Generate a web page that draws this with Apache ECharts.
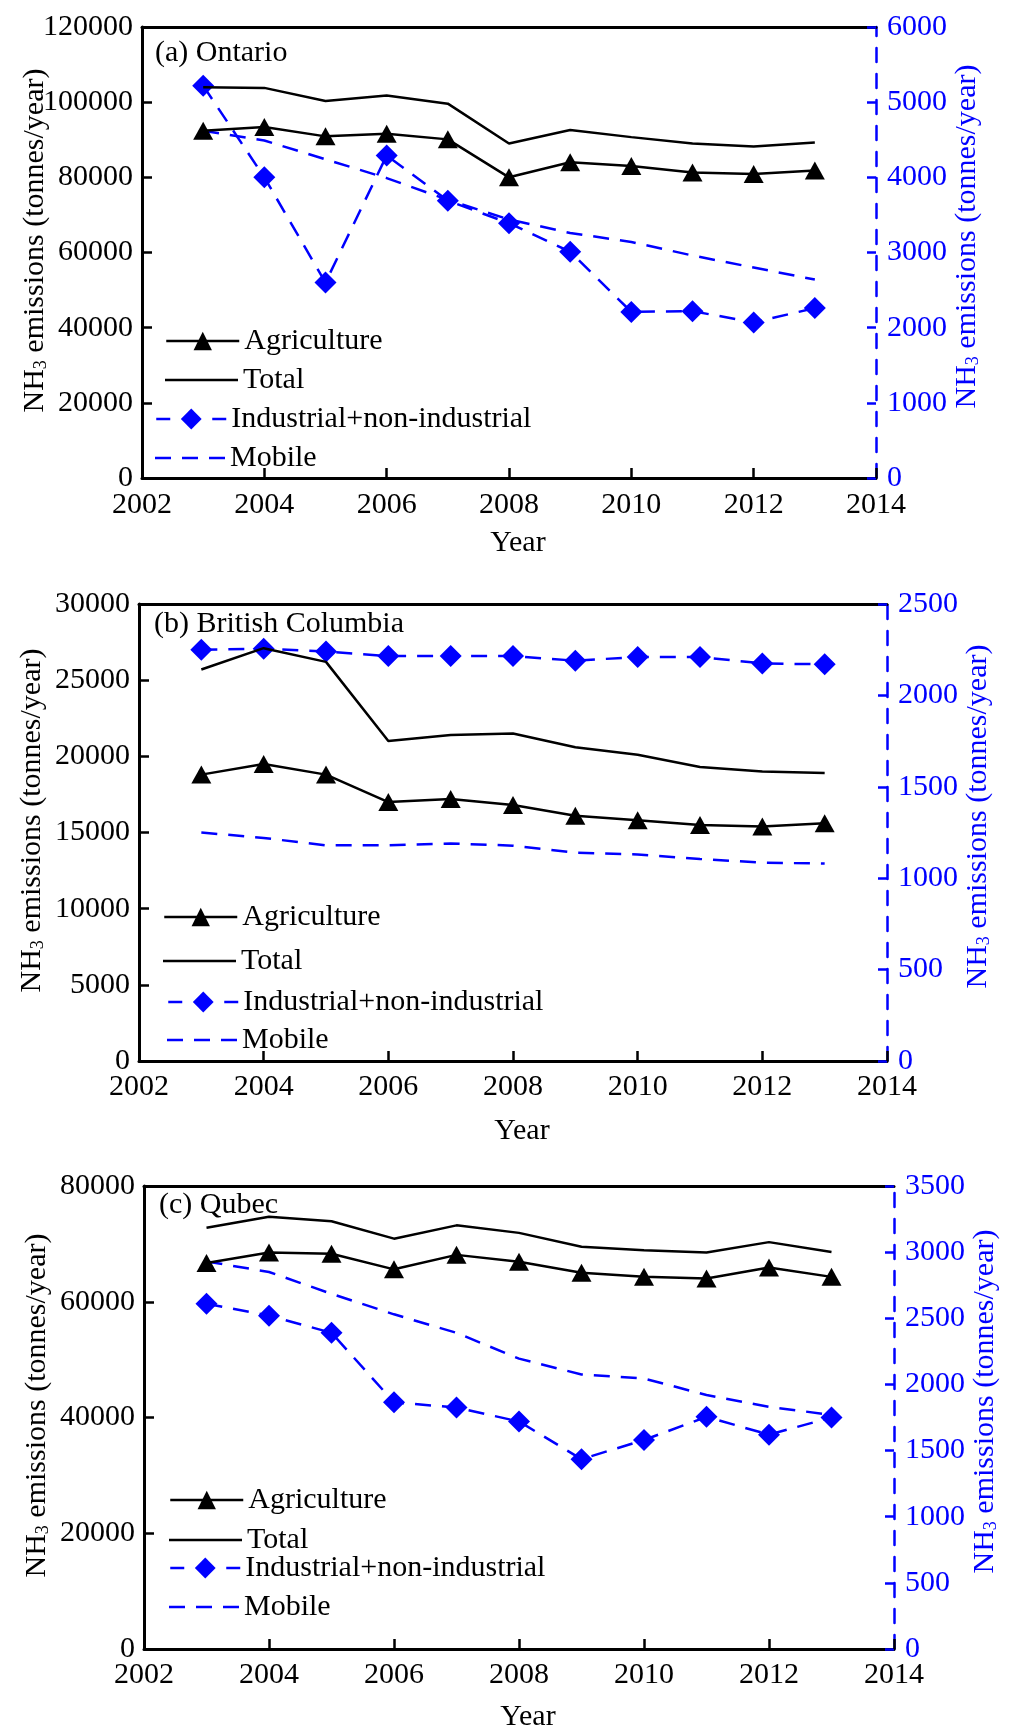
<!DOCTYPE html>
<html>
<head>
<meta charset="utf-8">
<script src="https://cdn.jsdelivr.net/npm/echarts@6/dist/echarts.min.js"></script>
<style>
  html, body { margin: 0; padding: 0; background: #ffffff; }
  #chart { width: 1016px; height: 1726px; }
</style>
</head>
<body>
<div id="chart"></div>
<script>
// Years of the emission inventory
const years = [2003, 2004, 2005, 2006, 2007, 2008, 2009, 2010, 2011, 2012, 2013];

// Year axis: [min, max, interval]
const yearAxis = [2002, 2014, 2];

// (a) Ontario, tonnes/year
const onTotal       = [104000, 103800, 100300, 101800, 99600, 89000, 92600, 90700, 89000, 88200, 89300];
const onAgriculture = [92400, 93400, 90900, 91600, 90100, 80000, 84000, 83000, 81300, 80900, 81800];
const onIndustrial  = [5220, 4000, 2600, 4290, 3690, 3390, 3010, 2210, 2220, 2070, 2260];
const onMobile      = [4620, 4490, 4240, 3990, 3700, 3440, 3260, 3140, 2960, 2800, 2640];
const onLeftAxis    = [0, 120000, 20000];
const onRightAxis   = [0, 6000, 1000];

// (b) British Columbia, tonnes/year
const bcTotal       = [25700, 27100, 26200, 21000, 21400, 21500, 20600, 20100, 19300, 19000, 18900];
const bcAgriculture = [18800, 19500, 18800, 17000, 17200, 16800, 16100, 15800, 15500, 15400, 15600];
const bcIndustrial  = [2250, 2255, 2240, 2215, 2215, 2215, 2190, 2210, 2210, 2175, 2170];
const bcMobile      = [1250, 1220, 1180, 1180, 1190, 1178, 1140, 1130, 1105, 1085, 1080];
const bcLeftAxis    = [0, 30000, 5000];
const bcRightAxis   = [0, 2500, 500];

// (c) Quebec, tonnes/year
const qcTotal       = [72800, 74700, 73900, 70900, 73200, 71900, 69500, 68900, 68500, 70300, 68600];
const qcAgriculture = [66700, 68500, 68300, 65600, 68100, 66900, 65000, 64300, 64000, 65900, 64300];
const qcIndustrial  = [2610, 2520, 2390, 1865, 1825, 1720, 1435, 1580, 1755, 1620, 1750];
const qcMobile      = [2930, 2850, 2685, 2530, 2390, 2195, 2075, 2045, 1920, 1830, 1770];
const qcLeftAxis    = [0, 80000, 20000];
const qcRightAxis   = [0, 3500, 500];

const FONT = 'Liberation Serif';
const BLUE = '#0000ff';
const BLACK = '#000000';
const FS = 30;
const BLUE_DASH = [16, 11];

const pairs = (vals) => years.map((y, i) => [y, vals[i]]);
const plain = (v) => String(v);

const panels = [
  {
    title: '(a) Ontario', titlePos: { left: 155, top: 38 },
    total: onTotal, agri: onAgriculture, ind: onIndustrial, mob: onMobile,
    leftAxis: onLeftAxis, rightAxis: onRightAxis,
    grid: { left: 142, top: 27, width: 734, height: 451 },
    labelMargin: 12, yearGap: 50,
    legendPos: [[165, 326], [165, 365], [155, 404], [155, 443]]
  },
  {
    title: '(b) British Columbia', titlePos: { left: 154, top: 609 },
    total: bcTotal, agri: bcAgriculture, ind: bcIndustrial, mob: bcMobile,
    leftAxis: bcLeftAxis, rightAxis: bcRightAxis,
    grid: { left: 139, top: 604, width: 748, height: 457 },
    labelMargin: 11, yearGap: 55,
    legendPos: [[163, 902], [163, 946], [167, 987], [167, 1025]]
  },
  {
    title: '(c) Qubec', titlePos: { left: 159, top: 1190 },
    total: qcTotal, agri: qcAgriculture, ind: qcIndustrial, mob: qcMobile,
    leftAxis: qcLeftAxis, rightAxis: qcRightAxis,
    grid: { left: 144, top: 1186, width: 750, height: 463 },
    labelMargin: 11, yearGap: 53,
    legendPos: [[169, 1485], [169, 1525], [169, 1553], [169, 1592]]
  }
];

const nameRich = (color) => ({
  a: { fontFamily: FONT, fontSize: FS, color: color },
  s: { fontFamily: FONT, fontSize: 18, color: color, verticalAlign: 'bottom' }
});
const axisName = '{a|NH}{s|3}{a| emissions (tonnes/year)}';

// Legend glyphs for the plain line series (no marker)
const solidIcon = 'path://M0,0H73V2.5H0Z';
const dashedIcon = 'path://M0,0H16V2.5H0Z M27,0H43V2.5H27Z M54,0H70V2.5H54Z';

const grids = [], xAxes = [], yAxes = [], series = [], titles = [], legends = [];

panels.forEach((p, i) => {
  grids.push(Object.assign({ containLabel: false, outerBoundsMode: 'none' }, p.grid));

  titles.push({
    text: p.title, left: p.titlePos.left, top: p.titlePos.top, padding: 0,
    textStyle: { fontFamily: FONT, fontSize: FS, fontWeight: 'normal', color: BLACK, lineHeight: 30 }
  });

  // bottom year axis
  xAxes.push({
    type: 'value', gridIndex: i, position: 'bottom',
    min: yearAxis[0], max: yearAxis[1], interval: yearAxis[2],
    name: 'Year', nameLocation: 'middle', nameGap: p.yearGap, nameMoveOverlap: false,
    nameTextStyle: { fontFamily: FONT, fontSize: FS, color: BLACK, padding: [0, 0, 0, 18] },
    axisLine: { show: true, onZero: false, lineStyle: { color: BLACK, width: 3 } },
    axisTick: { show: true, inside: true, length: 10, lineStyle: { color: BLACK, width: 2.5 } },
    axisLabel: { fontFamily: FONT, fontSize: FS, color: BLACK, margin: p.labelMargin, formatter: plain },
    splitLine: { show: false }
  });
  // top frame line
  xAxes.push({
    type: 'value', gridIndex: i, position: 'top',
    min: yearAxis[0], max: yearAxis[1], interval: yearAxis[2],
    axisLine: { show: true, onZero: false, lineStyle: { color: BLACK, width: 3 } },
    axisTick: { show: false }, axisLabel: { show: false }, splitLine: { show: false }
  });

  // left axis: agriculture and total
  yAxes.push({
    type: 'value', gridIndex: i, position: 'left',
    min: p.leftAxis[0], max: p.leftAxis[1], interval: p.leftAxis[2],
    name: axisName, nameLocation: 'middle', nameRotate: 90, nameGap: 92, nameMoveOverlap: false,
    nameTextStyle: { rich: nameRich(BLACK), padding: [0, 0, 0, 24] },
    axisLine: { show: true, onZero: false, lineStyle: { color: BLACK, width: 3 } },
    axisTick: { show: true, inside: true, length: 10, lineStyle: { color: BLACK, width: 2.5 } },
    axisLabel: { fontFamily: FONT, fontSize: FS, color: BLACK, margin: 9, formatter: plain },
    splitLine: { show: false }
  });
  // right axis: industrial and mobile
  yAxes.push({
    type: 'value', gridIndex: i, position: 'right',
    min: p.rightAxis[0], max: p.rightAxis[1], interval: p.rightAxis[2],
    name: axisName, nameLocation: 'middle', nameRotate: 90, nameGap: 76, nameMoveOverlap: false,
    nameTextStyle: { rich: nameRich(BLUE), padding: [0, 0, 0, 32] },
    axisLine: { show: true, onZero: false, lineStyle: { color: BLUE, width: 2.5, type: [14, 12] } },
    axisTick: { show: true, inside: true, length: 9, lineStyle: { color: BLUE, width: 2.5 } },
    axisLabel: { fontFamily: FONT, fontSize: FS, color: BLUE, margin: 11, formatter: plain },
    splitLine: { show: false }
  });

  const xi = 2 * i;
  series.push({
    name: 'Mobile', type: 'line', xAxisIndex: xi, yAxisIndex: 2 * i + 1,
    data: pairs(p.mob), symbol: 'none',
    lineStyle: { color: BLUE, width: 2.5, type: BLUE_DASH }, itemStyle: { color: BLUE }, z: 2
  });
  series.push({
    name: 'Industrial+non-industrial', type: 'line', xAxisIndex: xi, yAxisIndex: 2 * i + 1,
    data: pairs(p.ind), symbol: 'diamond', symbolSize: 22,
    lineStyle: { color: BLUE, width: 2.5, type: BLUE_DASH }, itemStyle: { color: BLUE }, z: 3
  });
  series.push({
    name: 'Total', type: 'line', xAxisIndex: xi, yAxisIndex: 2 * i,
    data: pairs(p.total), symbol: 'none',
    lineStyle: { color: BLACK, width: 2.5 }, itemStyle: { color: BLACK }, z: 4
  });
  series.push({
    name: 'Agriculture', type: 'line', xAxisIndex: xi, yAxisIndex: 2 * i,
    data: pairs(p.agri), symbol: 'triangle', symbolSize: [20, 18],
    lineStyle: { color: BLACK, width: 2.5 }, itemStyle: { color: BLACK }, z: 5
  });

  const legendItems = [
    { item: { name: 'Agriculture' }, w: 73, h: 23, line: { width: 2.5 } },
    { item: { name: 'Total', icon: solidIcon }, w: 73, h: 23, line: { width: 2.5 } },
    { item: { name: 'Industrial+non-industrial' }, w: 70, h: 26, line: { width: 2.5, type: [14, 14] } },
    { item: { name: 'Mobile', icon: dashedIcon }, w: 70, h: 23, line: { width: 2.5 } }
  ];
  legendItems.forEach((it, k) => {
    legends.push({
      data: [it.item], left: p.legendPos[k][0], top: p.legendPos[k][1],
      padding: 0, itemWidth: it.w, itemHeight: it.h, selectedMode: false,
      lineStyle: it.line,
      textStyle: { fontFamily: FONT, fontSize: FS, color: BLACK, lineHeight: 30 }
    });
  });
});

const chart = echarts.init(document.getElementById('chart'), null, { renderer: 'canvas' });
chart.setOption({
  backgroundColor: '#ffffff',
  animation: false,
  title: titles,
  legend: legends,
  grid: grids,
  xAxis: xAxes,
  yAxis: yAxes,
  series: series
});
</script>
</body>
</html>
